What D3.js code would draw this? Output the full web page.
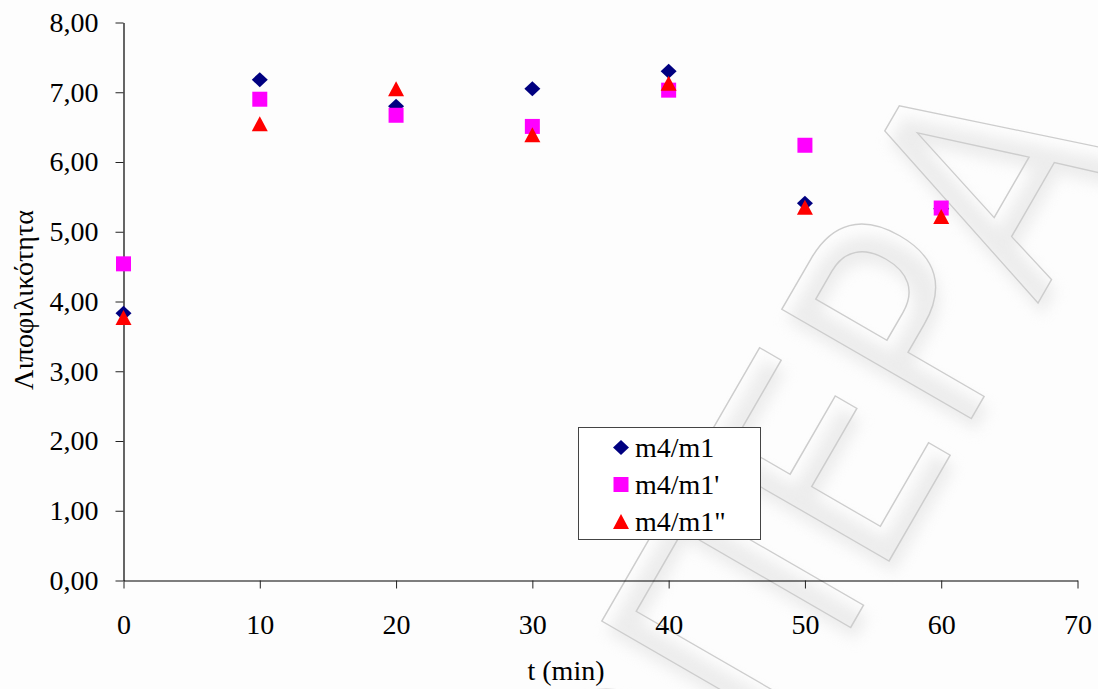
<!DOCTYPE html>
<html>
<head>
<meta charset="utf-8">
<script src="https://cdn.jsdelivr.net/npm/d3@7"></script>
<style>
  body { margin: 0; background: #fdfdfd; }
  svg { display: block; }
  text { font-family: "Liberation Serif", "Times New Roman", serif; fill: #000; }
</style>
</head>
<body>
<svg id="chart" width="1098" height="689"></svg>
<script>
// Sampling times (min)
const times = [0, 10, 20, 30, 40, 50, 60];

// Lipophilicity ratios per sample
const seriesNames = ["m4/m1", "m4/m1'", "m4/m1\""];
const ratioM4M1   = [3.83, 7.18, 6.80, 7.05, 7.30, 5.41, 5.33];
const ratioM4M1p  = [4.54, 6.90, 6.67, 6.51, 7.03, 6.24, 5.34];
const ratioM4M1pp = [3.77, 6.55, 7.05, 6.39, 7.13, 5.35, 5.22];

// Axis ticks
const xTicks = [0, 10, 20, 30, 40, 50, 60, 70];
const yTicks = [0, 1, 2, 3, 4, 5, 6, 7, 8];

const xTitle = "t (min)";
const yTitle = "Λιποφιλικότητα";
const watermarkText = "ΟΠΕΡΑ";

const W = 1098, H = 689;
const svg = d3.select("#chart");

const x = d3.scaleLinear().domain([0, 70]).range([123.5, 1077.5]);
const y = d3.scaleLinear().domain([0, 8]).range([580.5, 22.5]);

// Marker shapes (centred on the data point)
const shapes = {
  diamond:  "M0,-7.5L8,0L0,7.5L-8,0Z",
  square:   "M-7.5,-7.5H7.5V7.5H-7.5Z",
  triangle: "M0,-7.5L8,7.5L-8,7.5Z"
};
const series = [
  { name: seriesNames[0], values: ratioM4M1,   shape: "diamond",  color: "#000080" },
  { name: seriesNames[1], values: ratioM4M1p,  shape: "square",   color: "#ff00ff" },
  { name: seriesNames[2], values: ratioM4M1pp, shape: "triangle", color: "#ff0000" }
];

// Background
svg.append("rect").attr("width", W).attr("height", H).attr("fill", "#fdfdfd");

// Faint embossed watermark lettering
const defs = svg.append("defs");
const blur = defs.append("filter").attr("id", "soft")
  .attr("x", "-20%").attr("y", "-20%").attr("width", "140%").attr("height", "140%");
blur.append("feGaussianBlur").attr("stdDeviation", 7);

const wm = svg.append("g")
  .attr("transform", "translate(676,930) rotate(-60)");
const wmStyle = t => t
  .text(watermarkText)
  .attr("textLength", 900).attr("lengthAdjust", "spacingAndGlyphs")
  .style("font-family", "'DejaVu Sans', sans-serif")
  .style("font-size", "300px");
wm.append("text").call(wmStyle)
  .attr("x", -8).attr("y", 10)
  .style("fill", "#e2e2e2").style("opacity", 0.6)
  .attr("filter", "url(#soft)");
wm.append("text").call(wmStyle)
  .attr("x", 0).attr("y", 0)
  .style("fill", "none").style("stroke", "#cdcdcd").style("stroke-width", 1.5);

// Axes
const fmt = d => d3.format(".2f")(d).replace(".", ",");

const yAxis = svg.append("g")
  .attr("transform", `translate(${x(0)},0)`)
  .call(d3.axisLeft(y).tickValues(yTicks).tickFormat(fmt)
    .tickSize(8).tickSizeOuter(0).tickPadding(17));
const xAxis = svg.append("g")
  .attr("transform", `translate(0,${y(0)})`)
  .call(d3.axisBottom(x).tickValues(xTicks).tickFormat(d3.format("d"))
    .tickSize(8).tickSizeOuter(0).tickPadding(25.5));

[xAxis, yAxis].forEach(g => {
  g.attr("font-family", null).attr("font-size", null);
  g.select(".domain").attr("stroke", "#000").attr("stroke-width", 1.2);
  g.selectAll(".tick line").attr("stroke", "#222").attr("stroke-width", 1);
  g.selectAll(".tick text").style("font-size", "28px").attr("fill", "#000");
});

// Axis titles
svg.append("text")
  .attr("x", 566).attr("y", 680)
  .attr("text-anchor", "middle")
  .style("font-size", "28px")
  .text(xTitle);
svg.append("text")
  .attr("transform", "translate(33,300) rotate(-90)")
  .attr("text-anchor", "middle")
  .style("font-size", "28px")
  .text(yTitle);

// Data markers
const plot = svg.append("g");
series.forEach(s => {
  plot.append("g").selectAll("path")
    .data(times.map((t, i) => ({ t, v: s.values[i] })))
    .join("path")
    .attr("d", shapes[s.shape])
    .attr("transform", d => `translate(${x(d.t)},${y(d.v)})`)
    .attr("fill", s.color);
});

// Legend
const legend = svg.append("g");
legend.append("rect")
  .attr("x", 578.5).attr("y", 427.5)
  .attr("width", 182).attr("height", 112)
  .attr("fill", "#fff").attr("stroke", "#444").attr("stroke-width", 1);
const rows = legend.selectAll("g.row").data(series).join("g")
  .attr("class", "row")
  .attr("transform", (d, i) => `translate(621,${447.5 + i * 37})`);
rows.append("path")
  .attr("d", d => shapes[d.shape])
  .attr("fill", d => d.color);
rows.append("text")
  .attr("x", 14).attr("y", 9.5)
  .style("font-size", "28px")
  .text(d => d.name);
</script>
</body>
</html>
